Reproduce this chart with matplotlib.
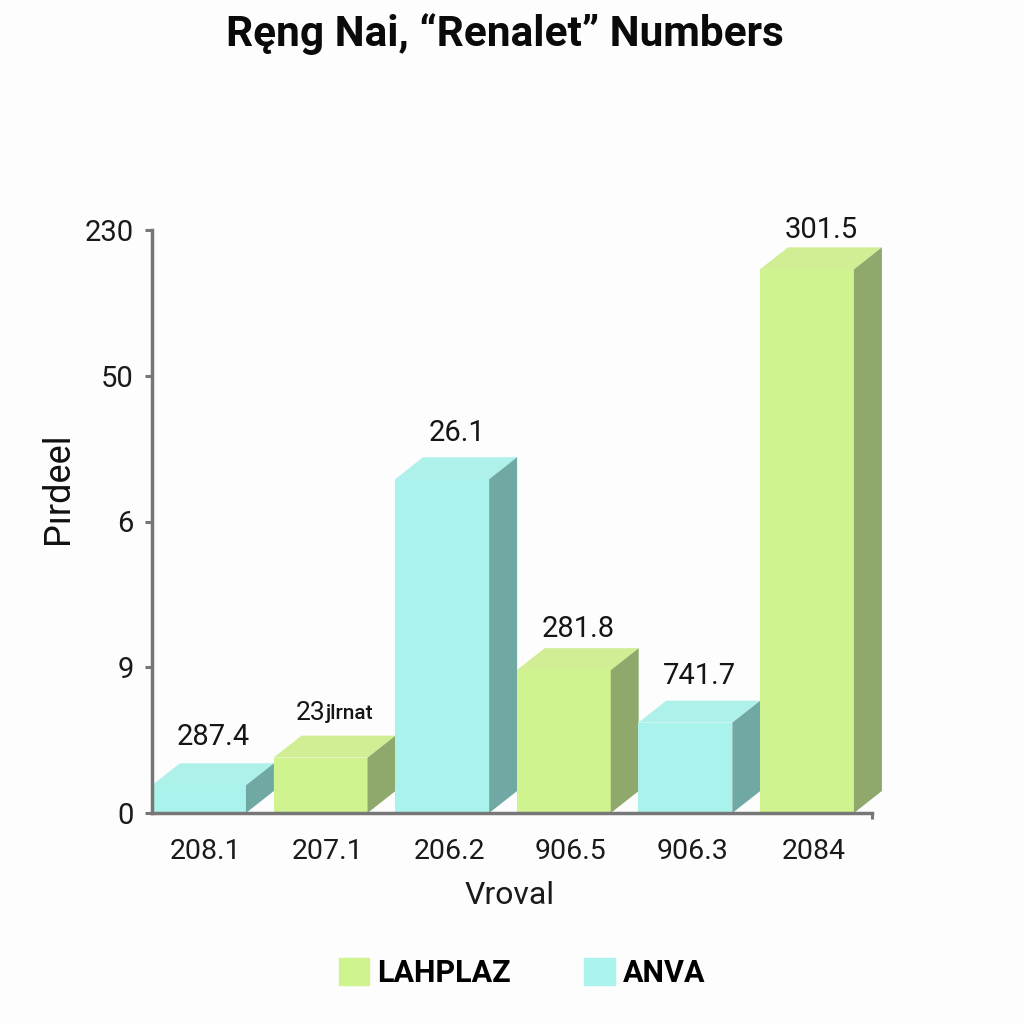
#!/usr/bin/env python3
import matplotlib
matplotlib.use("Agg")
import matplotlib.pyplot as plt
from matplotlib.patches import Patch, Polygon
from matplotlib.transforms import ScaledTranslation

title = "Ręng Nai, “Renalet” Numbers"
x_labels = ["208.1", "207.1", "206.2", "906.5", "906.3", "2084"]
y_labels = ["0", "9", "6", "50", "230"]
heights = [0.19, 0.38, 2.29, 0.98, 0.62, 3.73]
value_labels = ["287.4", "23", "26.1", "281.8", "741.7", "301.5"]
groups = ["ANVA", "LAHPLAZ", "ANVA", "LAHPLAZ", "ANVA", "LAHPLAZ"]

# label gap above each bar top
label_gaps = [0.085, 0.07, 0.07, 0.036, 0.07, 0.022]

# front, top, side
colors = {
    "LAHPLAZ": ("#cff38f", "#d2ee95", "#8fa96c"),
    "ANVA": ("#a9f3ec", "#aef0ea", "#70a8a3"),
}

plt.rcParams["font.family"] = ["Roboto", "DejaVu Sans"]

fig = plt.figure(figsize=(10.24, 10.24), dpi=100, facecolor="#fdfdfd")
ax = fig.add_axes([152 / 1024, 1 - 813 / 1024, 720 / 1024, 583 / 1024])
ax.set_facecolor("none")

width = 0.773
depth_x = 0.23
depth_y = 0.151

for i, h in enumerate(heights):
    front, top, side = colors[groups[i]]
    ax.bar(i, h, width=width, color=front, zorder=2)
    l = i - width / 2
    r = i + width / 2
    ax.add_patch(Polygon([(l, h), (r, h), (r + depth_x, h + depth_y), (l + depth_x, h + depth_y)],
                         color=top, lw=0, clip_on=False, zorder=2))
    ax.add_patch(Polygon([(r, 0), (r + depth_x, depth_y), (r + depth_x, h + depth_y), (r, h)],
                         color=side, lw=0, clip_on=False, zorder=2))
    if i == 1:
        # this label has a smaller tail
        t = ax.text(i - 0.08, h + depth_y + label_gaps[i], value_labels[i], ha="center", va="bottom", fontsize=19, color="#151515")
        ax.annotate("jlrnat", xy=(1, 0.5), xycoords=t, ha="left", va="center", fontsize=15, fontweight="medium", color="#151515")
    else:
        ax.text(i + 0.12, h + depth_y + label_gaps[i], value_labels[i], ha="center", va="bottom", fontsize=21, color="#151515")

ax.set_xlim(-0.386, 5.535)
ax.set_ylim(0, 4)
ax.set_xticks(range(6))
ax.set_xticks([5.535], minor=True)
ax.set_xticklabels(x_labels, fontsize=20.5, color="#1a1a1a")
ax.set_yticks(range(5))
ax.set_yticklabels(y_labels, fontsize=21, color="#1a1a1a")
ax.tick_params(axis="x", length=0, pad=18)
ax.tick_params(axis="x", which="minor", length=4, width=2.2, color="#777777")
ax.tick_params(axis="y", length=5, width=2.2, color="#777777", pad=8)

shift = ScaledTranslation(5 / 72, 0, fig.dpi_scale_trans)
for lab in ax.get_xticklabels():
    lab.set_transform(lab.get_transform() + shift)

ax.spines["top"].set_visible(False)
ax.spines["right"].set_visible(False)
ax.spines["left"].set_color("#777777")
ax.spines["bottom"].set_color("#777777")
ax.spines["left"].set_linewidth(2.5)
ax.spines["bottom"].set_linewidth(2.5)

fig.text(58 / 1024, 1 - 488 / 1024, "Pırdeel", rotation=90, ha="center", va="center", fontsize=26, color="#111111")
fig.text(510 / 1024, 1 - 895 / 1024, "Vroval", ha="center", va="center", fontsize=23, color="#1a1a1a")
fig.text(505 / 1024, 1 - 34 / 1024, title, ha="center", va="center", fontsize=30.5, fontweight="bold", color="#0a0a0a")

handles = [Patch(color=colors["LAHPLAZ"][0], label="LAHPLAZ"), Patch(color=colors["ANVA"][0], label="ANVA")]
fig.legend(handles=handles, loc="center", bbox_to_anchor=(522 / 1024, 1 - 973 / 1024), ncol=2, frameon=False,
           prop={"size": 22, "weight": "bold"}, handlelength=1.0, handleheight=1.0, handletextpad=0.26, columnspacing=2.4)

fig.savefig("out.png", dpi=100, facecolor=fig.get_facecolor())
